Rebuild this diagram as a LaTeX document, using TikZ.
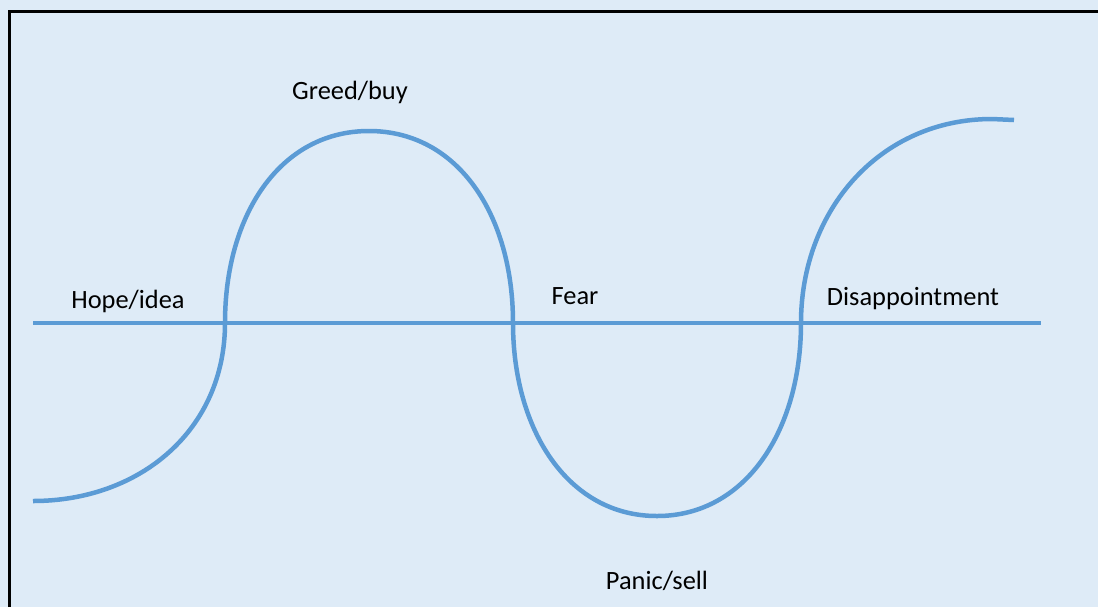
\documentclass[tikz,border=0pt]{standalone}
\usepackage{fontspec}
\setmainfont{Carlito}
\usepackage{tikz}
\usepackage{xcolor}
\definecolor{panelbg}{HTML}{DEEBF7}
\definecolor{curveblue}{HTML}{5B9BD5}

\begin{document}
\begin{tikzpicture}[x=0.5pt,y=-0.5pt]
  \tikzset{cyclecurve/.style={draw=curveblue,line width=2.25pt}}
  \tikzset{cyclelabel/.style={font=\fontsize{13.2pt}{15pt}\selectfont,inner sep=0pt,anchor=base,text=black}}
  \tikzset{frameline/.style={draw=black,line width=1.5pt}}
  \useasboundingbox (0,0) rectangle (1098,607);
  \fill[panelbg] (0,0) rectangle (1098,607);
  \draw[frameline] (9,607) -- (9,11) -- (1098,11);
  \coordinate (start) at (33,501);
  \coordinate (up1) at (225,323);
  \coordinate (peak) at (369,131);
  \coordinate (down1) at (513,323);
  \coordinate (trough) at (657,516);
  \coordinate (up2) at (801,323);
  \coordinate (top2) at (992,119);
  \coordinate (finish) at (1014,120);
  \coordinate (axisL) at (33,323);
  \coordinate (axisR) at (1041,323);
  \draw[cyclecurve] (axisL) -- (axisR);
  \draw[cyclecurve] (start) .. controls (140,501) and (225,430) .. (up1)
    .. controls (225,215) and (280,131) .. (peak)
    .. controls (458,131) and (513,215) .. (down1)
    .. controls (513,430) and (568,516) .. (trough)
    .. controls (746,516) and (801,430) .. (up2)
    .. controls (801,210) and (880,119) .. (top2) -- (finish);
  \node[cyclelabel] (greed) at (350,99) {Greed/buy};
  \node[cyclelabel] (hope) at (128,308) {Hope/idea};
  \node[cyclelabel] (fear) at (575,304) {Fear};
  \node[cyclelabel] (disap) at (913,305) {Disappointment};
  \node[cyclelabel] (panic) at (657,589) {Panic/sell};
\end{tikzpicture}
\end{document}
